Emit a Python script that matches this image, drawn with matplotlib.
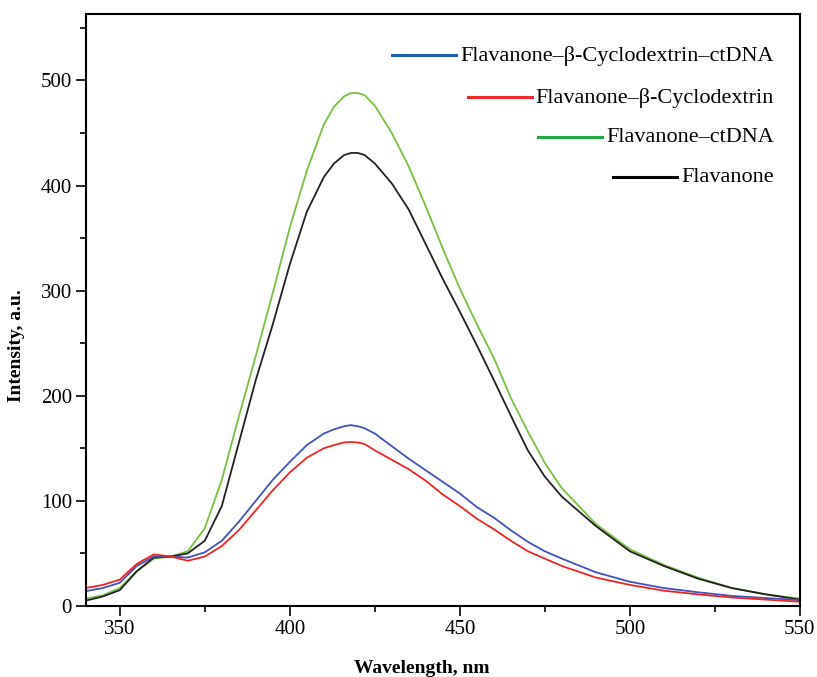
import numpy as np
import matplotlib
matplotlib.use("Agg")
import matplotlib.pyplot as plt
from matplotlib.lines import Line2D
from matplotlib.ticker import MultipleLocator

plt.rcParams['font.family'] = ['Liberation Serif', 'DejaVu Serif']

# wavelength grid (nm)
wl = [340, 345, 350, 355, 360, 365, 370, 375, 380, 385, 390, 395, 400, 405,
      410, 413, 416, 418, 420, 422, 425, 430, 435, 440, 445, 450, 455, 460,
      465, 470, 475, 480, 490, 500, 510, 520, 530, 540, 550]

# Flavanone-beta-Cyclodextrin-ctDNA
blue = [14, 17, 22, 38, 47, 47, 46, 51, 62, 80, 100, 120, 137, 153,
        164, 168, 171, 172, 171, 169, 164, 152, 140, 129, 118, 107, 94, 84,
        72, 61, 52, 45, 32, 23, 17, 13, 9.5, 7.5, 5.5]

# Flavanone-beta-Cyclodextrin
red = [17, 20, 25, 40, 49, 47, 43, 47, 57, 72, 91, 110, 127, 141,
       150, 153, 155.5, 156, 155.5, 154, 148, 139, 130, 119, 106, 95, 83, 73,
       62, 52, 45, 38, 27, 20, 14.5, 11, 8, 6, 4]

# Flavanone-ctDNA
green = [7, 10, 17, 33, 45, 47, 52, 74, 120, 180, 238, 298, 360, 414,
         458, 475, 485, 488, 488, 486, 476, 450, 418, 380, 340, 302, 268, 236,
         198, 166, 136, 112, 78, 54, 39, 27, 17, 11, 7]

# Flavanone
black = [5, 9, 15, 33, 46, 47, 50, 62, 95, 155, 215, 268, 325, 375,
         408, 421, 429, 431, 431, 429, 421, 402, 377, 344, 311, 280, 248, 215,
         181, 148, 123, 104, 76, 52, 38, 26, 17, 11, 6]

labels = ["Flavanone\u2013\u03b2-Cyclodextrin\u2013ctDNA",
          "Flavanone\u2013\u03b2-Cyclodextrin",
          "Flavanone\u2013ctDNA",
          "Flavanone"]
legend_colors = ["#1f63b0", "#ee2a2a", "#22aa48", "#000000"]

W, H = 817, 677
fig = plt.figure(figsize=(W / 100, H / 100), dpi=100)
ax = fig.add_axes([0.105, 0.105, 0.874, 0.874])

ax.plot(wl, green, color="#78c043", lw=1.3)
ax.plot(wl, black, color="#222222", lw=1.3)
ax.plot(wl, blue, color="#4152b8", lw=1.3)
ax.plot(wl, red, color="#ee2424", lw=1.3)

ax.set_xlim(340, 550)
ax.set_ylim(0, 563)
ax.xaxis.set_major_locator(MultipleLocator(50))
ax.xaxis.set_minor_locator(MultipleLocator(25))
ax.yaxis.set_major_locator(MultipleLocator(100))
ax.yaxis.set_minor_locator(MultipleLocator(50))
ax.set_xticks([350, 400, 450, 500, 550])
ax.tick_params(which="major", direction="out", length=7, width=1.2, labelsize=15, pad=3)
ax.tick_params(which="minor", direction="out", length=4, width=1.2)
for s in ax.spines.values():
    s.set_linewidth(1.5)

ax.set_xlabel("Wavelength, nm", fontsize=14, fontweight="bold")
ax.set_ylabel("Intensity, a.u.", fontsize=14, fontweight="bold")
ax.xaxis.set_label_coords(0.47, -0.092)
ax.yaxis.set_label_coords(-0.085, 0.44)

# legend drawn by hand: text right aligned, short line just before each text
fig.canvas.draw()
renderer = fig.canvas.get_renderer()
rows_y = [56, 98, 138, 178]   # pixel rows from top
for lab, col, py in zip(labels, legend_colors, rows_y):
    t = fig.text(774 / W, 1 - py / H, lab, ha="right", va="center", fontsize=16)
    bb = t.get_window_extent(renderer)
    x1 = bb.x0 - 4
    x0 = x1 - 64
    fig.add_artist(Line2D([x0 / W, x1 / W], [1 - (py - 1) / H] * 2,
                          color=col, lw=2.2, transform=fig.transFigure))

fig.savefig("out.png", dpi=100)
